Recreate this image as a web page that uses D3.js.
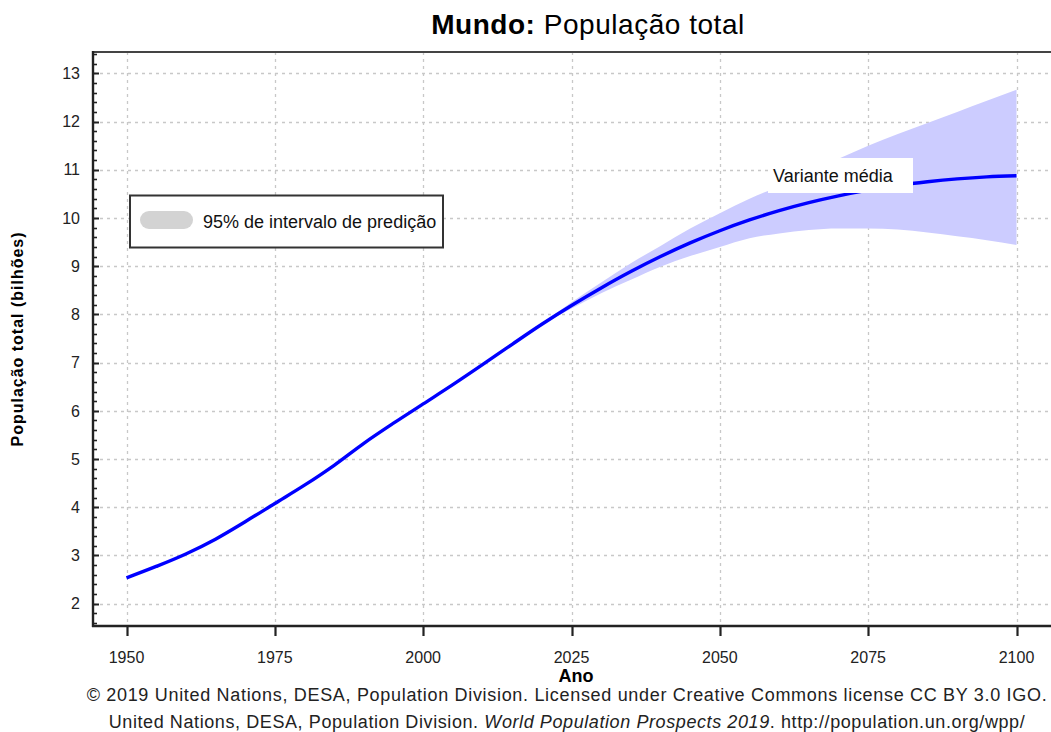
<!DOCTYPE html>
<html><head><meta charset="utf-8">
<script src="https://cdn.jsdelivr.net/npm/d3@7"></script>
<style>
html,body{margin:0;padding:0;background:#fff;}
svg{display:block;font-family:"Liberation Sans",Arial,sans-serif;}
</style></head>
<body>
<svg id="c" width="1051" height="732"></svg>
<script>
// ---- data ----
const years = [1950,1955,1960,1965,1970,1975,1980,1985,1990,1995,2000,2005,2010,2015,2020,2025,2030,2035,2040,2045,2050,2055,2060,2065,2070,2075,2080,2085,2090,2095,2100];
const median = [2.536,2.773,3.032,3.339,3.700,4.079,4.458,4.871,5.327,5.744,6.143,6.542,6.957,7.380,7.795,8.184,8.548,8.888,9.199,9.482,9.735,9.958,10.152,10.318,10.459,10.577,10.674,10.750,10.810,10.852,10.875];
const bandYears = [2020,2025,2030,2035,2040,2045,2050,2055,2060,2065,2070,2075,2080,2085,2090,2095,2100];
const lower95 = [7.78,8.12,8.44,8.72,8.99,9.21,9.40,9.58,9.68,9.75,9.78,9.78,9.76,9.70,9.62,9.54,9.44];
const upper95 = [7.81,8.25,8.66,9.06,9.42,9.78,10.10,10.40,10.66,10.95,11.23,11.50,11.74,11.97,12.20,12.43,12.66];
const xTicks = [1950,1975,2000,2025,2050,2075,2100];
const yTicks = [2,3,4,5,6,7,8,9,10,11,12,13];

const titleBold = "Mundo:";
const titleRest = " População total";
const yLabel = "População total (bilhões)";
const xLabel = "Ano";
const legendLabel = "95% de intervalo de predição";
const seriesLabel = "Variante média";
const footer1 = "© 2019 United Nations, DESA, Population Division. Licensed under Creative Commons license CC BY 3.0 IGO.";
const footer2a = "United Nations, DESA, Population Division. ";
const footer2b = "World Population Prospects 2019";
const footer2c = ". http://population.un.org/wpp/";

// ---- layout ----
const plotL = 93, plotR = 1051, plotT = 52, plotB = 626;
const svg = d3.select("#c");
const x = d3.scaleLinear().domain([1950,2100]).range([126.5,1016.5]);
const y = d3.scaleLinear().domain([2,13]).range([603.7,73.3]);
const yMin = y.invert(plotB), yMax = y.invert(plotT);

function fit(sel, target){
  const n = sel.text().length;
  const w = sel.node().getComputedTextLength();
  sel.attr("letter-spacing", ((target - w) / Math.max(1, n - 1)).toFixed(3));
}

// grid
const grid = svg.append("g").attr("stroke","#c8c8c8").attr("stroke-width",1.3).attr("stroke-dasharray","3,4");
grid.selectAll("line.h").data(yTicks).join("line").attr("class","h")
  .attr("x1",plotL).attr("x2",plotR).attr("y1",d=>Math.round(y(d))+0.5).attr("y2",d=>Math.round(y(d))+0.5);
grid.selectAll("line.v").data(xTicks).join("line").attr("class","v")
  .attr("y1",plotT).attr("y2",plotB).attr("x1",d=>Math.round(x(d))+0.5).attr("x2",d=>Math.round(x(d))+0.5);

// band
const band = bandYears.map((yr,i)=>({yr, lo:lower95[i], hi:upper95[i]}));
svg.append("path").datum(band)
  .attr("fill","#ccccff").attr("stroke","none")
  .attr("d", d3.area().x(d=>x(d.yr)).y0(d=>y(d.lo)).y1(d=>y(d.hi)).curve(d3.curveMonotoneX));

// median line
const med = years.map((yr,i)=>({yr, v:median[i]}));
svg.append("path").datum(med)
  .attr("fill","none").attr("stroke","#0000ff").attr("stroke-width",3.4)
  .attr("d", d3.line().x(d=>x(d.yr)).y(d=>y(d.v)).curve(d3.curveMonotoneX));

// series label
const lblG = svg.append("g");
lblG.append("rect").attr("x",768).attr("y",158).attr("width",145).attr("height",35).attr("fill","#fff");
lblG.append("text").attr("x",773).attr("y",182).attr("font-size",18).attr("fill","#111").text(seriesLabel);

// frame: top line
svg.append("line").attr("x1",plotL).attr("x2",plotR).attr("y1",plotT).attr("y2",plotT)
  .attr("stroke","#444").attr("stroke-width",2.2);

// y axis
const yAxis = svg.append("g");
yAxis.append("line").attr("x1",plotL).attr("x2",plotL).attr("y1",plotT-1).attr("y2",plotB+1)
  .attr("stroke","#222").attr("stroke-width",2.4);
const minor = d3.range(Math.ceil(yMin*5)/5, yMax, 0.2).filter(v=>Math.abs(v-Math.round(v))>0.01);
yAxis.selectAll("line.mn").data(minor).join("line").attr("class","mn")
  .attr("x1",plotL).attr("x2",plotL+4).attr("y1",d=>Math.round(y(d))+0.5).attr("y2",d=>Math.round(y(d))+0.5)
  .attr("stroke","#222").attr("stroke-width",1.6);
yAxis.selectAll("line.mj").data(yTicks).join("line").attr("class","mj")
  .attr("x1",plotL).attr("x2",plotL+6).attr("y1",d=>Math.round(y(d))+0.5).attr("y2",d=>Math.round(y(d))+0.5)
  .attr("stroke","#222").attr("stroke-width",2);
yAxis.selectAll("text").data(yTicks).join("text")
  .attr("x",80).attr("y",d=>y(d)).attr("dy","0.36em").attr("text-anchor","end")
  .attr("font-size",16).attr("fill","#222").text(d=>d);

// x axis
const xAxis = svg.append("g");
xAxis.append("line").attr("x1",plotL-1).attr("x2",plotR).attr("y1",plotB).attr("y2",plotB)
  .attr("stroke","#222").attr("stroke-width",2.4);
xAxis.selectAll("line.t").data(xTicks).join("line").attr("class","t")
  .attr("x1",d=>Math.round(x(d))+0.5).attr("x2",d=>Math.round(x(d))+0.5).attr("y1",plotB).attr("y2",plotB+10)
  .attr("stroke","#222").attr("stroke-width",2.2);
xAxis.selectAll("text").data(xTicks).join("text")
  .attr("x",d=>x(d)).attr("y",663).attr("text-anchor","middle")
  .attr("font-size",16).attr("fill","#222").text(d=>d);

// legend
const lg = svg.append("g");
lg.append("rect").attr("x",130).attr("y",195.5).attr("width",313).attr("height",52)
  .attr("fill","#fff").attr("stroke","#333").attr("stroke-width",2);
lg.append("rect").attr("x",140).attr("y",211).attr("width",53).attr("height",18).attr("rx",9)
  .attr("fill","#d3d3d3");
lg.append("text").attr("x",203).attr("y",228).attr("font-size",18).attr("fill","#111").text(legendLabel);

// title
const t = svg.append("text").attr("x",588).attr("y",34).attr("text-anchor","middle").attr("font-size",28).attr("fill","#000");
t.append("tspan").attr("font-weight","bold").text(titleBold);
t.append("tspan").text(titleRest);
fit(t, 313);

// axis labels
const yl = svg.append("text").attr("transform","translate(23,339) rotate(-90)").attr("text-anchor","middle")
  .attr("font-size",16).attr("font-weight","bold").attr("fill","#000").text(yLabel);
fit(yl, 214);
svg.append("text").attr("x",576).attr("y",682).attr("text-anchor","middle")
  .attr("font-size",18).attr("font-weight","bold").attr("fill","#000").text(xLabel);

// footer
const f1 = svg.append("text").attr("x",567).attr("y",701).attr("text-anchor","middle")
  .attr("font-size",18).attr("fill","#222").text(footer1);
fit(f1, 960);
const f2 = svg.append("text").attr("x",567).attr("y",728).attr("text-anchor","middle")
  .attr("font-size",18).attr("fill","#222");
f2.append("tspan").text(footer2a);
f2.append("tspan").attr("font-style","italic").text(footer2b);
f2.append("tspan").text(footer2c);
fit(f2, 916);
</script>
</body></html>
